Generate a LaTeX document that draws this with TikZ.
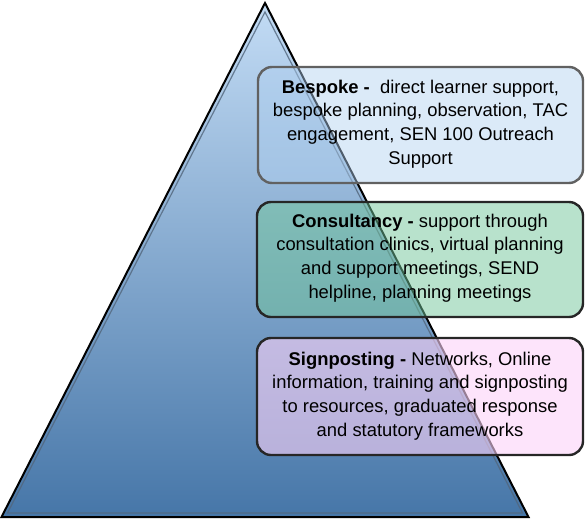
\documentclass[tikz,border=0pt]{standalone}
\usepackage{fontspec}
\setmainfont{Liberation Sans}
\begin{document}
\begin{tikzpicture}[x=1pt,y=-1pt,
  boxtext/.style={font=\fontsize{18.4}{23.6}\selectfont, align=center, inner sep=0pt},
  tier/.style={rounded corners=14pt, line width=2.4pt}]
\useasboundingbox (0,0) rectangle (586,520);
\definecolor{tritop}{HTML}{C3DCF5}
\definecolor{tribot}{HTML}{4676A8}
\definecolor{bespokefill}{HTML}{B0D0F0}
\definecolor{consultfill}{HTML}{71C599}
\definecolor{signfill}{HTML}{FCD2F8}
\definecolor{innerline}{HTML}{52667C}
% pyramid
\coordinate (apex) at (265,3);
\coordinate (bl) at (1.5,517);
\coordinate (br) at (528.5,517);
\shade[top color=tritop, bottom color=tribot] (apex) -- (bl) -- (br) -- cycle;
\draw[innerline, line width=1.2pt, opacity=0.8] (265,12) -- (7.5,513) -- (522.5,513) -- cycle;
\draw[black, line width=2pt, line join=miter] (apex) -- (bl) -- (br) -- cycle;
% tiers
\draw[tier, draw=black!62, fill=bespokefill, fill opacity=0.45] (258,67) rectangle (583,183);
\draw[tier, draw=black!85, fill=consultfill, fill opacity=0.5] (257,202) rectangle (583,317);
\draw[tier, draw=black!85, fill=signfill, fill opacity=0.6] (257,338) rectangle (583,455);
\node[boxtext] (bespoke) at (420.5,124) {\textbf{Bespoke -}\ \ direct learner support,\\bespoke planning, observation, TAC\\engagement, SEN 100 Outreach\\Support};
\node[boxtext] (consult) at (420,258) {\textbf{Consultancy -} support through\\consultation clinics, virtual planning\\and support meetings, SEND\\helpline, planning meetings};
\node[boxtext] (sign) at (420,396) {\textbf{Signposting -} Networks, Online\\information, training and signposting\\to resources, graduated response\\and statutory frameworks};
\end{tikzpicture}
\end{document}
